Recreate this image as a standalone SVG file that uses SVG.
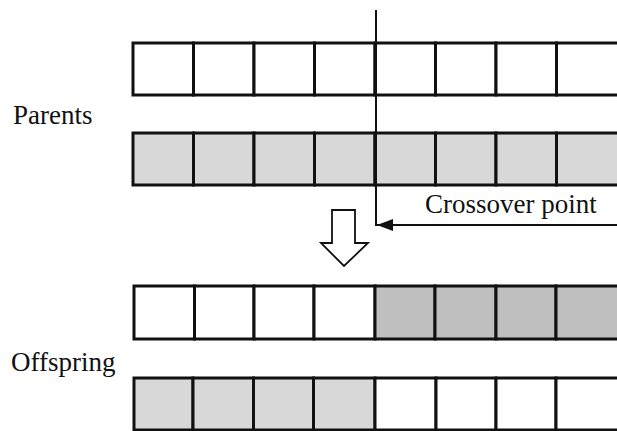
<svg xmlns="http://www.w3.org/2000/svg" width="617" height="431" viewBox="0 0 617 431">
  <style>
    .cell { stroke: #111; stroke-width: 3; }
    .w { fill: #ffffff; }
    .g { fill: #d8d8d8; }
    .d { fill: #bfbfbf; }
    .lbl { font-size: 27px; fill: #111; }
    .ln { stroke: #111; stroke-width: 2; fill: none; }
  </style>
  <defs>
    <marker id="head" viewBox="0 0 16 12" refX="16" refY="6" markerWidth="16" markerHeight="12" markerUnits="userSpaceOnUse" orient="auto">
      <path d="M0,0 L16,6 L0,12 Z" fill="#111"/>
    </marker>
  </defs>

  <rect width="617" height="431" fill="#ffffff"/>

  <!-- parent chromosome 1 -->
  <g id="parent1">
    <rect class="cell w" x="133" y="43" width="60.5" height="52"/>
    <rect class="cell w" x="193.5" y="43" width="60.5" height="52"/>
    <rect class="cell w" x="254" y="43" width="60.5" height="52"/>
    <rect class="cell w" x="314.5" y="43" width="60.5" height="52"/>
    <rect class="cell w" x="375" y="43" width="60.5" height="52"/>
    <rect class="cell w" x="435.5" y="43" width="60.5" height="52"/>
    <rect class="cell w" x="496" y="43" width="60.5" height="52"/>
    <rect class="cell w" x="556.5" y="43" width="66" height="52"/>
  </g>

  <!-- parent chromosome 2 -->
  <g id="parent2">
    <rect class="cell g" x="133" y="133" width="60.5" height="52"/>
    <rect class="cell g" x="193.5" y="133" width="60.5" height="52"/>
    <rect class="cell g" x="254" y="133" width="60.5" height="52"/>
    <rect class="cell g" x="314.5" y="133" width="60.5" height="52"/>
    <rect class="cell g" x="375" y="133" width="60.5" height="52"/>
    <rect class="cell g" x="435.5" y="133" width="60.5" height="52"/>
    <rect class="cell g" x="496" y="133" width="60.5" height="52"/>
    <rect class="cell g" x="556.5" y="133" width="66" height="52"/>
  </g>

  <!-- offspring chromosome 1 -->
  <g id="offspring1">
    <rect class="cell w" x="134" y="286" width="60.5" height="53"/>
    <rect class="cell w" x="194.5" y="286" width="59.5" height="53"/>
    <rect class="cell w" x="254" y="286" width="60" height="53"/>
    <rect class="cell w" x="314" y="286" width="61" height="53"/>
    <rect class="cell d" x="375" y="286" width="60" height="53"/>
    <rect class="cell d" x="435" y="286" width="61" height="53"/>
    <rect class="cell d" x="496" y="286" width="60" height="53"/>
    <rect class="cell d" x="556" y="286" width="66" height="53"/>
  </g>

  <!-- offspring chromosome 2 -->
  <g id="offspring2">
    <rect class="cell g" x="134" y="378" width="59" height="52"/>
    <rect class="cell g" x="193" y="378" width="60.5" height="52"/>
    <rect class="cell g" x="253.5" y="378" width="60" height="52"/>
    <rect class="cell g" x="313.5" y="378" width="61.5" height="52"/>
    <rect class="cell w" x="375" y="378" width="61" height="52"/>
    <rect class="cell w" x="436" y="378" width="60" height="52"/>
    <rect class="cell w" x="496" y="378" width="60" height="52"/>
    <rect class="cell w" x="556" y="378" width="66" height="52"/>
  </g>

  <g id="label-parents">
    <text class="lbl" font-family="'Liberation Serif', 'DejaVu Serif', serif" x="13" y="124">Parents</text>
  </g>
  <g id="label-offspring">
    <text class="lbl" font-family="'Liberation Serif', 'DejaVu Serif', serif" x="11" y="371">Offspring</text>
  </g>
  <g id="label-crossover">
    <text class="lbl" font-family="'Liberation Serif', 'DejaVu Serif', serif" x="425" y="213">Crossover point</text>
  </g>

  <!-- connectors -->
  <g id="connectors">
    <line class="ln" x1="376" y1="10" x2="376" y2="226"/>
    <line class="ln" x1="620" y1="225" x2="377" y2="225" marker-end="url(#head)"/>
    <path d="M332,210 L355,210 L355,243 L368,243 L344,266 L321,243 L332,243 Z" fill="#ffffff" stroke="#111" stroke-width="1.8" stroke-linejoin="miter"/>
  </g>
</svg>
